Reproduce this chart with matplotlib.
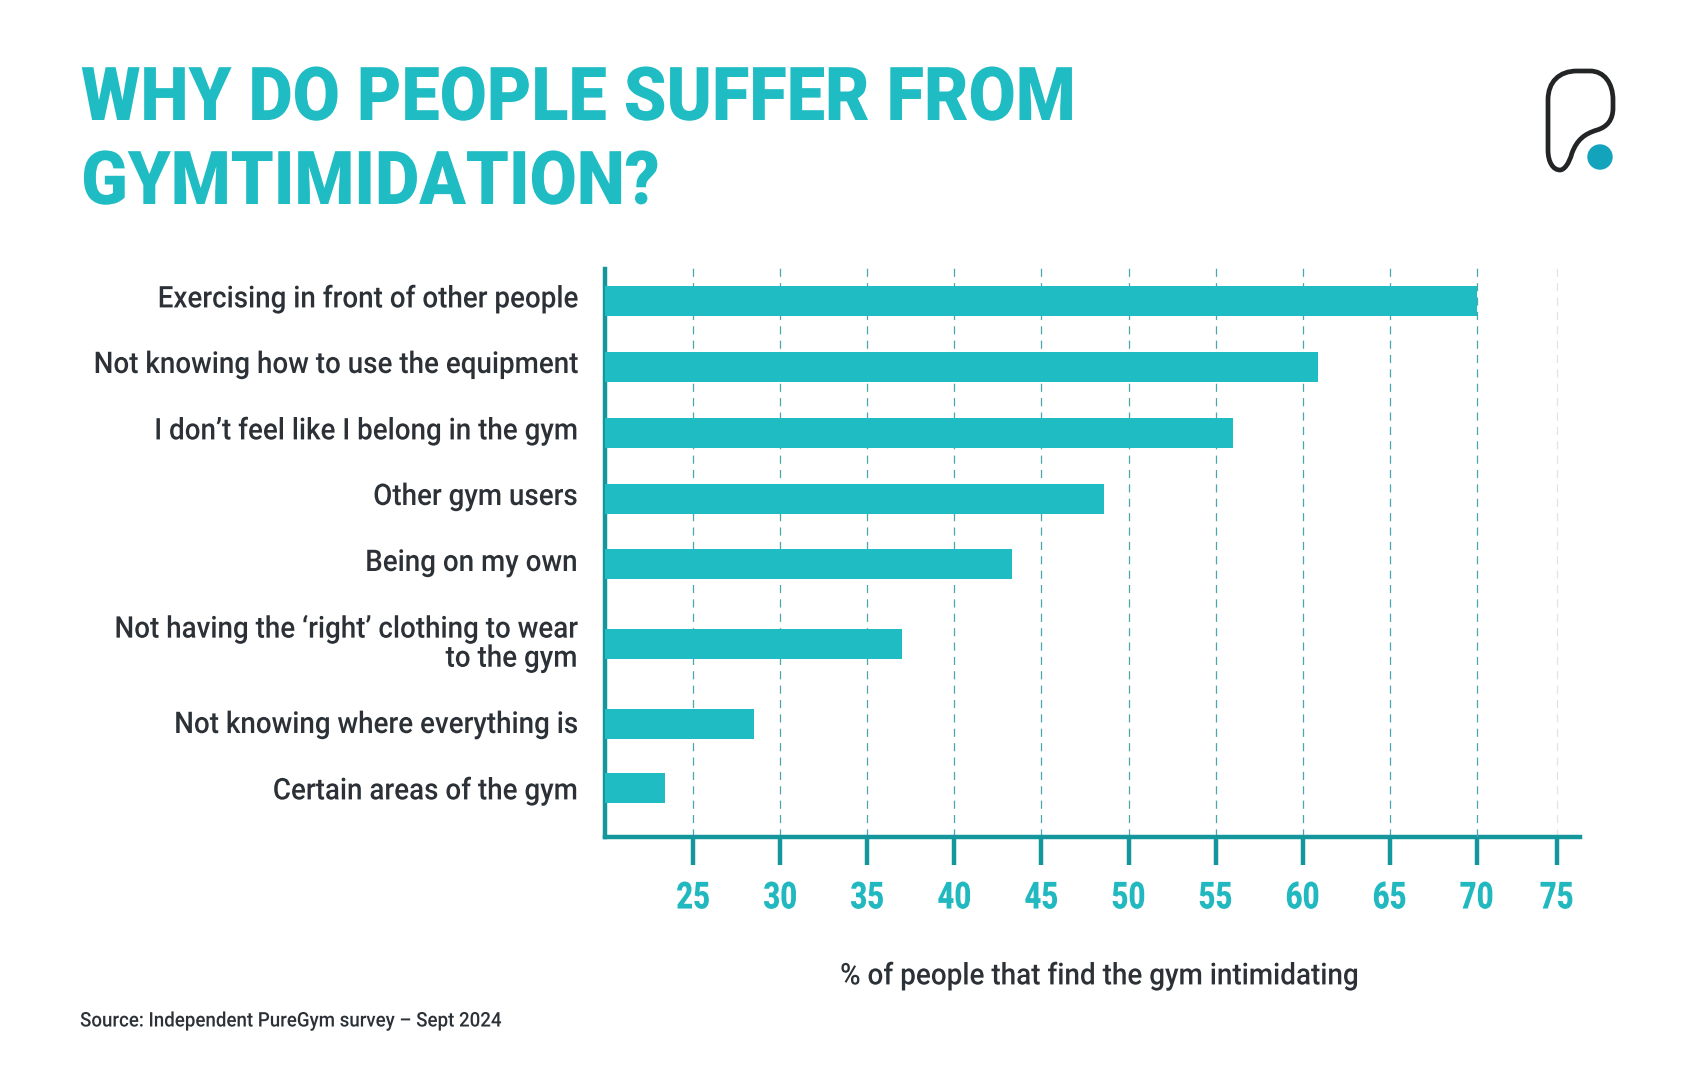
import matplotlib
matplotlib.use('Agg')
import matplotlib.pyplot as plt
import matplotlib.patheffects as pe
from matplotlib.path import Path
from matplotlib.patches import PathPatch, Circle
from matplotlib.transforms import Affine2D, IdentityTransform, blended_transform_factory

W, H = 1685, 1077

categories = ['Exercising in front of other people',
              'Not knowing how to use the equipment',
              'I don\u2019t feel like I belong in the gym',
              'Other gym users',
              'Being on my own',
              'Not having the \u2018right\u2019 clothing to wear\nto the gym',
              'Not knowing where everything is',
              'Certain areas of the gym']
values = [70, 60.9, 56, 48.6, 43.3, 37, 28.5, 23.4]
tick_labels = ['25', '30', '35', '40', '45', '50', '55', '60', '65', '70', '75']

# the 75 tick sits a little short of where it should on the original
tick_pos = [25, 30, 35, 40, 45, 50, 55, 60, 65, 70, 74.6]
# row centres in pixels, rows are not evenly spaced
row_y = [301, 367.5, 433, 499.5, 564.5, 644, 724.5, 788]
label_y = [299, 365, 431, 497, 563, 644, 725, 791]

TEAL = '#1fbcc3'
AXIS = '#14979c'
DARK = '#2b3136'


class Squeeze(pe.AbstractPathEffect):
    """Narrow the glyphs sideways, no condensed DIN font is installed here."""

    def __init__(self, sx, anchor='left'):
        super().__init__()
        self.sx = sx
        self.anchor = anchor

    def draw_path(self, renderer, gc, tpath, affine, rgbFace=None):
        box = tpath.get_extents(affine)
        x0 = {'left': box.x0, 'center': (box.x0 + box.x1) / 2, 'right': box.x1}[self.anchor]
        squeeze = Affine2D().translate(-x0, 0).scale(self.sx, 1).translate(x0, 0)
        renderer.draw_path(gc, tpath, affine + squeeze, rgbFace)


fig = plt.figure(figsize=(W / 100, H / 100), dpi=100, facecolor='white')

# plot area lined up with the picture: left 605, right 1580, bottom 836, grid runs a bit over the spine
ax = fig.add_axes([605 / W, 1 - 836.5 / H, (1580 - 605) / W, (836.5 - 262) / H])
ax.set_xlim(19.93, 19.93 + (1580 - 605) / 17.41)
ax.set_ylim(836.5, 262)

ax.barh(row_y, [v - 19.93 for v in values], left=19.93, height=30, color=TEAL, zorder=3)

for p in tick_pos:
    c = '#e2e4e4' if p == tick_pos[-1] else '#4aa5ad'
    ax.axvline(p, color=c, lw=0.9, dashes=(6.5, 5), zorder=4 if p == 70 else 1)

for s in ['top', 'right']:
    ax.spines[s].set_visible(False)
for s in ['left', 'bottom']:
    ax.spines[s].set_color(AXIS)
    ax.spines[s].set_linewidth(3.2)
ax.spines['left'].set_bounds(836.5, 269)

ax.set_yticks([])
ax.set_xticks(tick_pos)
ax.set_xticklabels(tick_labels, family='Roboto', fontweight='black', fontsize=27, color='#22b8bf')
ax.tick_params(axis='x', length=20, width=3.2, color=AXIS, pad=11)
for t in ax.get_xticklabels():
    t.set_path_effects([Squeeze(0.78, 'center')])

px_y = blended_transform_factory(IdentityTransform(), ax.transData)
for lab, y in zip(categories, label_y):
    t = ax.text(577.5, y, lab, transform=px_y, ha='right', va='center', fontsize=21.5,
                color=DARK, family='Roboto', fontweight='medium', linespacing=1.05)
    t.set_path_effects([Squeeze(0.93, 'right')])

for txt, base in [('WHY DO PEOPLE SUFFER FROM', 120), ('GYMTIMIDATION?', 204)]:
    t = fig.text(81 / W, 1 - base / H, txt, family='Roboto', fontweight='black', fontsize=53.5,
                 color=TEAL, ha='left', va='baseline')
    t.set_path_effects([Squeeze(0.92, 'left')])

t = fig.text(1099 / W, 1 - 976 / H, '% of people that find the gym intimidating', family='Roboto',
             fontsize=21.5, color=DARK, fontweight='medium', ha='center', va='center')
t.set_path_effects([Squeeze(0.933, 'center')])
t = fig.text(80 / W, 1 - 1021 / H, 'Source: Independent PureGym survey \u2013 Sept 2024', family='Roboto',
             fontsize=14.5, color=DARK, fontweight='medium', ha='left', va='center')
t.set_path_effects([Squeeze(0.93, 'left')])

# logo, drawn in pixel coordinates
over = fig.add_axes([0, 0, 1, 1], facecolor='none')
over.set_xlim(0, W)
over.set_ylim(H, 0)
over.axis('off')
verts = [(1548, 150), (1548, 100), (1548, 82), (1559, 71), (1577, 71), (1590, 71),
         (1604, 71), (1613, 83), (1613, 100), (1613, 108), (1613, 120), (1607, 127), (1597, 130),
         (1584, 134), (1577, 140), (1572, 153), (1569, 164), (1564, 170), (1560, 170),
         (1553, 170), (1548, 162), (1548, 150)]
codes = [Path.MOVETO, Path.LINETO, Path.CURVE4, Path.CURVE4, Path.CURVE4, Path.LINETO,
         Path.CURVE4, Path.CURVE4, Path.CURVE4, Path.LINETO, Path.CURVE4, Path.CURVE4, Path.CURVE4,
         Path.CURVE4, Path.CURVE4, Path.CURVE4, Path.CURVE4, Path.CURVE4, Path.CURVE4,
         Path.CURVE4, Path.CURVE4, Path.CURVE4]
over.add_patch(PathPatch(Path(verts, codes), fc='none', ec='#222426', lw=3.4))
over.add_patch(Circle((1600, 157), 12.7, fc='#13a3bd', ec='none'))

fig.savefig('out.png', dpi=100)
